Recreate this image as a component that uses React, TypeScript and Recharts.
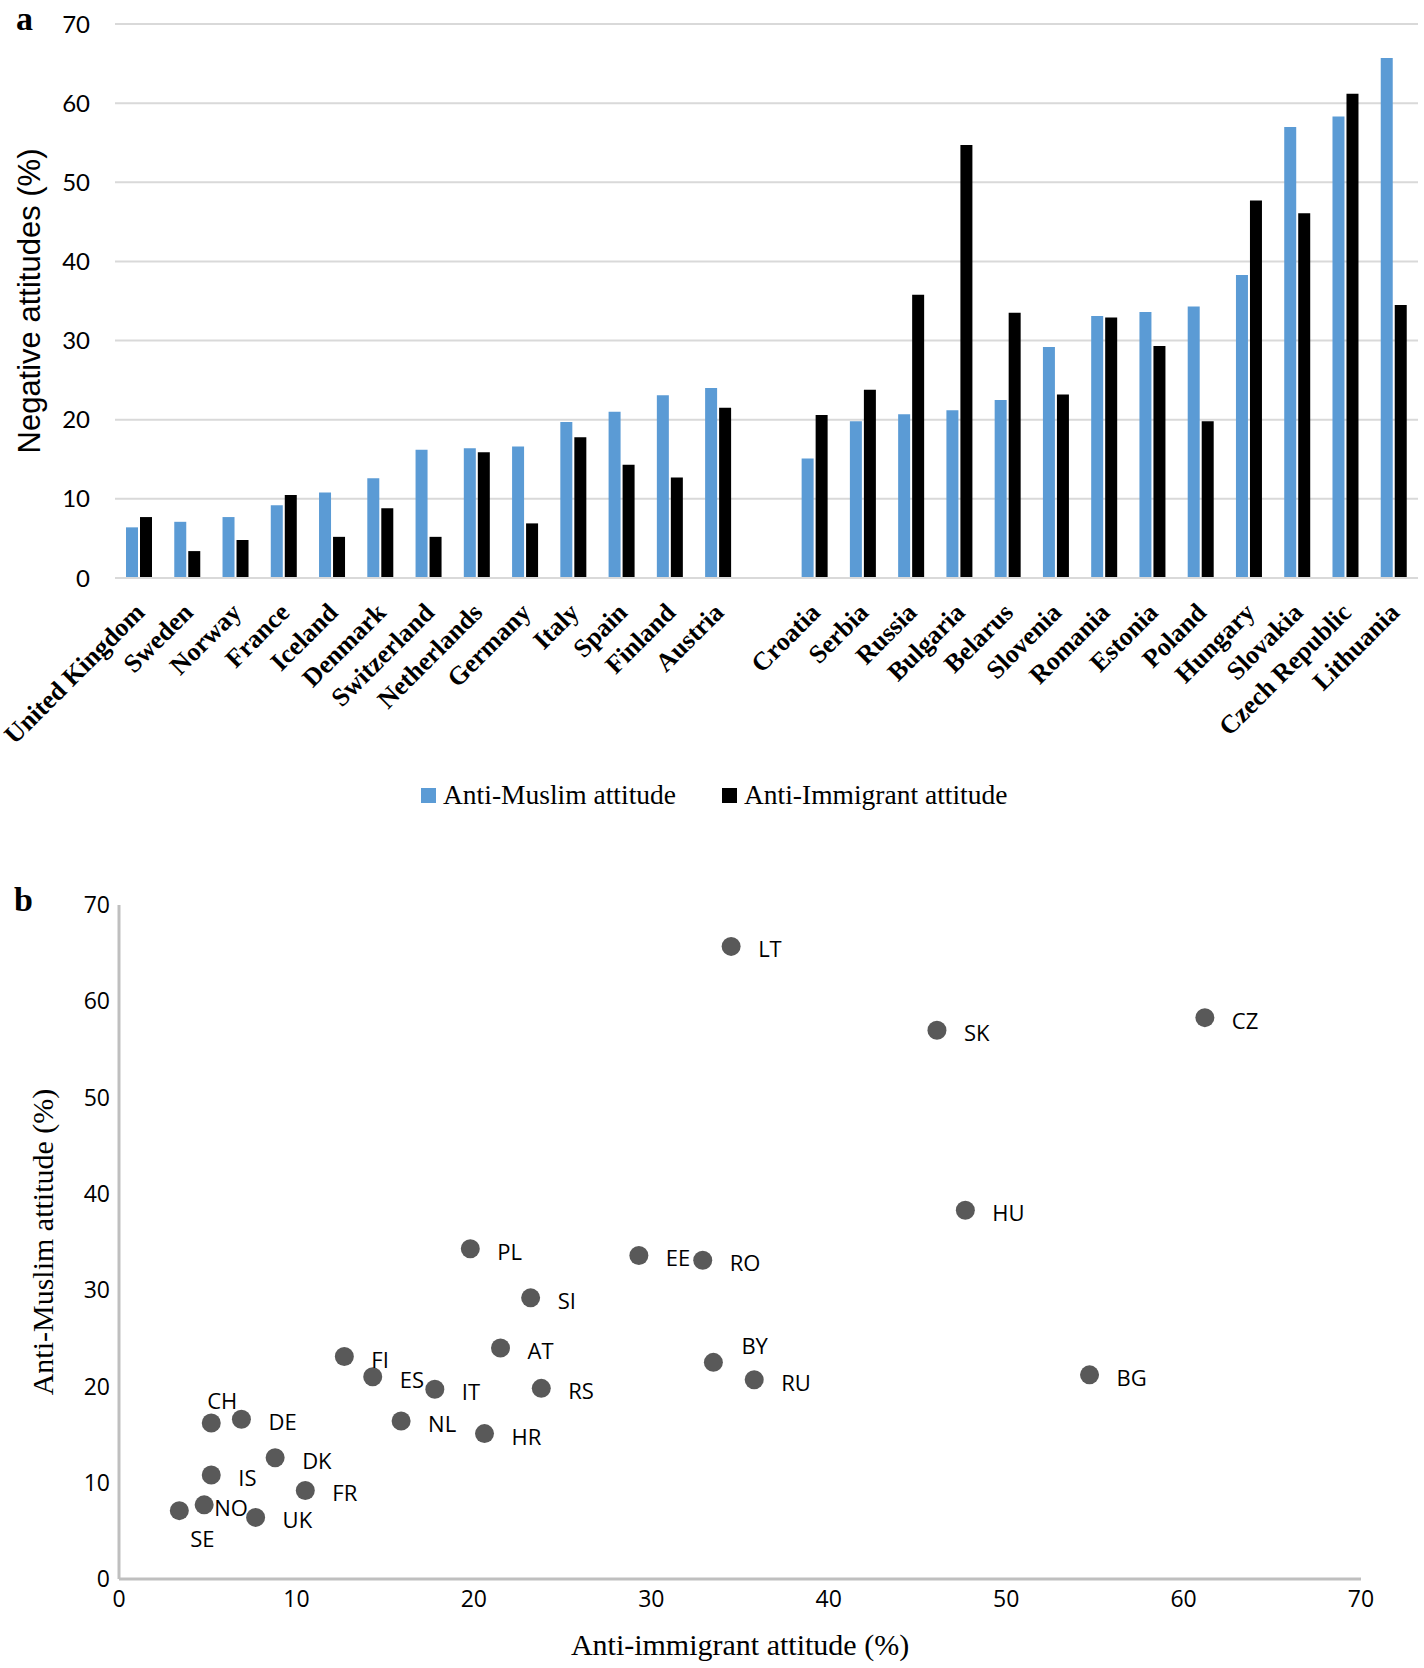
import React from 'react';
import {
  BarChart,
  Bar,
  XAxis,
  YAxis,
  CartesianGrid,
  Legend,
  ScatterChart,
  Scatter,
} from 'recharts';

// countries in the order of the bar chart, '' is the gap between west and east
const countries = [
  'United Kingdom', 'Sweden', 'Norway', 'France', 'Iceland', 'Denmark', 'Switzerland',
  'Netherlands', 'Germany', 'Italy', 'Spain', 'Finland', 'Austria', '',
  'Croatia', 'Serbia', 'Russia', 'Bulgaria', 'Belarus', 'Slovenia', 'Romania',
  'Estonia', 'Poland', 'Hungary', 'Slovakia', 'Czech Republic', 'Lithuania',
];
const codes = [
  'UK', 'SE', 'NO', 'FR', 'IS', 'DK', 'CH', 'NL', 'DE', 'IT', 'ES', 'FI', 'AT', '',
  'HR', 'RS', 'RU', 'BG', 'BY', 'SI', 'RO', 'EE', 'PL', 'HU', 'SK', 'CZ', 'LT',
];
const antiMuslim = [
  6.4, 7.1, 7.7, 9.2, 10.8, 12.6, 16.2, 16.4, 16.6, 19.7, 21.0, 23.1, 24.0, null,
  15.1, 19.8, 20.7, 21.2, 22.5, 29.2, 33.1, 33.6, 34.3, 38.3, 57.0, 58.3, 65.7,
];
const antiImmigrant = [
  7.7, 3.4, 4.8, 10.5, 5.2, 8.8, 5.2, 15.9, 6.9, 17.8, 14.3, 12.7, 21.5, null,
  20.6, 23.8, 35.8, 54.7, 33.5, 23.2, 32.9, 29.3, 19.8, 47.7, 46.1, 61.2, 34.5,
];
const yTicks = [0, 10, 20, 30, 40, 50, 60, 70];

const BLUE = '#5b9bd5';
const SERIF = '"Liberation Serif", "Times New Roman", serif';
const SANS = '"Open Sans", sans-serif';

const barData = countries.map((country, i) => ({
  country,
  muslim: antiMuslim[i],
  immigrant: antiImmigrant[i],
}));

const scatterData = codes
  .map((code, i) => ({ code, x: antiImmigrant[i], y: antiMuslim[i] }))
  .filter((d) => d.code !== '');

// where each code label sits next to its dot
const labelPos: Record<string, { dx: number; dy: number; anchor?: string }> = {
  BY: { dx: 28, dy: -17 },
  CH: { dx: 11, dy: -23, anchor: 'middle' },
  NO: { dx: 10, dy: 2 },
  SE: { dx: 23, dy: 27, anchor: 'middle' },
};

const CountryTick = (props: any) => {
  const { x, y, payload } = props;
  const ax = x + 7;
  const ay = y + 36;
  return (
    <text
      x={ax}
      y={ay}
      transform={`rotate(-45, ${ax}, ${ay})`}
      textAnchor="end"
      fontFamily={SERIF}
      fontWeight="bold"
      fontSize={26}
      fill="#000"
    >
      {payload.value}
    </text>
  );
};

const renderLegend = () => (
  <div
    style={{
      display: 'flex',
      alignItems: 'center',
      paddingLeft: 421,
      fontFamily: SERIF,
      fontSize: 27.5,
      color: '#000',
      lineHeight: '30px',
    }}
  >
    <span style={{ width: 15, height: 15, background: BLUE, marginRight: 7 }} />
    <span style={{ marginRight: 46 }}>Anti-Muslim attitude</span>
    <span style={{ width: 15, height: 15, background: '#000', marginRight: 7 }} />
    <span>Anti-Immigrant attitude</span>
  </div>
);

const DotWithLabel = (props: any) => {
  const { cx, cy, payload } = props;
  const pos = labelPos[payload.code] || { dx: 27, dy: 2 };
  return (
    <g>
      <circle cx={cx} cy={cy} r={9.5} fill="#595959" />
      <text
        x={cx + pos.dx}
        y={cy + pos.dy}
        textAnchor={pos.anchor || 'start'}
        dominantBaseline="central"
        fontFamily={SANS}
        fontSize={22}
        fill="#000"
      >
        {payload.code}
      </text>
    </g>
  );
};

const panelLetter = (text: string, top: number, left: number) => (
  <div
    style={{
      position: 'absolute',
      top,
      left,
      fontFamily: SERIF,
      fontWeight: 'bold',
      fontSize: 34,
      lineHeight: 'normal',
    }}
  >
    {text}
  </div>
);

const App = () => {
  return (
    <div
      style={{
        position: 'absolute',
        top: 0,
        left: 0,
        width: 1424,
        height: 1668,
        background: '#fff',
        overflow: 'hidden',
      }}
    >
      <div style={{ position: 'absolute', top: 0, left: 0 }}>
        <BarChart
          width={1424}
          height={840}
          data={barData}
          margin={{ top: 24, right: 6, left: 0, bottom: 0 }}
          barGap={2}
          barSize={12}
        >
          <CartesianGrid vertical={false} stroke="#d9d9d9" strokeWidth={2} />
          <XAxis
            dataKey="country"
            interval={0}
            height={262}
            tickLine={false}
            tickSize={0}
            tickMargin={0}
            axisLine={{ stroke: '#d9d9d9', strokeWidth: 2 }}
            tick={<CountryTick />}
          />
          <YAxis
            domain={[0, 70]}
            ticks={yTicks}
            width={115}
            axisLine={false}
            tickLine={false}
            tickSize={0}
            tickMargin={25}
            tick={{ fontFamily: 'Lato, sans-serif', fontSize: 24, fill: '#000' }}
            label={{
              value: 'Negative attitudes (%)',
              angle: -90,
              position: 'insideLeft',
              offset: 29,
              style: {
                textAnchor: 'middle',
                fontFamily: '"Liberation Sans", Arial, sans-serif',
                fontSize: 31,
                fill: '#000',
              },
            }}
          />
          <Legend
            layout="horizontal"
            verticalAlign="middle"
            align="center"
            content={renderLegend}
            wrapperStyle={{ top: 780, left: 0, width: 1424 }}
          />
          <Bar dataKey="muslim" name="Anti-Muslim attitude" fill={BLUE} isAnimationActive={false} />
          <Bar dataKey="immigrant" name="Anti-Immigrant attitude" fill="#000" isAnimationActive={false} />
        </BarChart>
      </div>

      <div style={{ position: 'absolute', top: 860, left: 0 }}>
        <ScatterChart
          width={1424}
          height={808}
          margin={{ top: 45, right: 63, left: 0, bottom: 0 }}
        >
          <XAxis
            type="number"
            dataKey="x"
            domain={[0, 70]}
            ticks={yTicks}
            height={89}
            tickLine={false}
            tickSize={0}
            tickMargin={12}
            axisLine={{ stroke: '#bfbfbf', strokeWidth: 3 }}
            tick={{ fontFamily: SANS, fontSize: 23, fill: '#000' }}
            label={{
              value: 'Anti-immigrant attitude (%)',
              position: 'insideBottom',
              offset: 13,
              style: { fontFamily: SERIF, fontSize: 30, fill: '#000' },
            }}
          />
          <YAxis
            type="number"
            dataKey="y"
            domain={[0, 70]}
            ticks={yTicks}
            width={119}
            tickLine={false}
            tickSize={0}
            tickMargin={9}
            axisLine={{ stroke: '#bfbfbf', strokeWidth: 3 }}
            tick={{ fontFamily: SANS, fontSize: 23, fill: '#000' }}
            label={{
              value: 'Anti-Muslim attitude (%)',
              angle: -90,
              position: 'insideLeft',
              offset: 42,
              style: { textAnchor: 'middle', fontFamily: SERIF, fontSize: 30, fill: '#000' },
            }}
          />
          <Scatter data={scatterData} shape={DotWithLabel} isAnimationActive={false} />
        </ScatterChart>
      </div>

      {panelLetter('a', 0, 16)}
      {panelLetter('b', 881, 14)}
    </div>
  );
};

export default App;
